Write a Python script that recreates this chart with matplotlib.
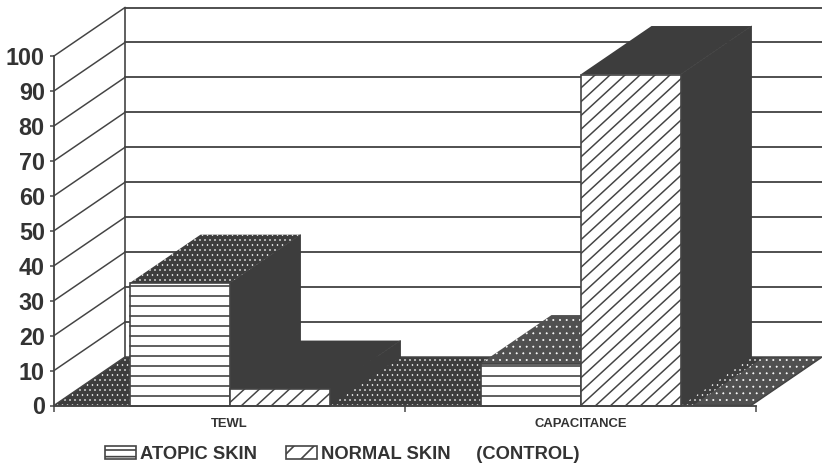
import numpy as np
import matplotlib
matplotlib.use("Agg")
import matplotlib.pyplot as plt
from matplotlib.patches import Polygon, Patch

categories = ["TEWL", "CAPACITANCE"]
atopic = [35, 12]
normal = [4.7, 94.7]
series_labels = ["ATOPIC SKIN", "NORMAL SKIN     (CONTROL)"]
y_ticks = list(range(0, 101, 10))

DARK = "#3d3d3d"
LINE = "#444444"
plt.rcParams["font.family"] = ["Liberation Sans", "DejaVu Sans"]
plt.rcParams["hatch.linewidth"] = 0.35

W, H, DPI = 822, 465, 120
fig = plt.figure(figsize=(W / DPI, H / DPI), dpi=DPI, facecolor="white")
ax = fig.add_axes([0, 0, 1, 1])

PX_X = 351.0      # pixels per category
PX_Y = 3.495      # pixels per value unit
X0, Y0 = 54.0, 405.5
ax.set_xlim(-X0 / PX_X, (W - X0) / PX_X)
ax.set_ylim(-(H - Y0) / PX_Y, Y0 / PX_Y)
ax.patch.set_visible(False)

DX = 71 / PX_X    # depth offset
DY = 48.5 / PX_Y
BW = 100 / PX_X   # bar width
XMAX = (W - X0) / PX_X

# walls
for v in y_ticks[1:]:
    ax.plot([DX, XMAX], [v + DY, v + DY], color=LINE, lw=1.1, zorder=1)
    ax.plot([0, DX], [v, v + DY], color=LINE, lw=0.9, zorder=1)
ax.plot([DX, DX], [DY, 100 + DY], color=LINE, lw=1.0, zorder=1)

# floor
ax.add_patch(Polygon([(0, 0), (DX, DY), (XMAX, DY), (XMAX - DX, 0)], closed=True,
                     facecolor=DARK, edgecolor="white", hatch="....", lw=0, zorder=2))
ax.add_patch(Polygon([(1.82, 0), (1.82 + DX, DY), (XMAX, DY), (XMAX - DX, 0)], closed=True,
                     facecolor="#505050", edgecolor="white", hatch="...", lw=0, zorder=2))
ax.add_patch(Polygon([(0, 0), (DX, DY), (XMAX, DY), (XMAX - DX, 0)], closed=True,
                     fill=False, edgecolor=LINE, lw=0.9, zorder=2.1))


def draw_bar(left, value, top_kw, kind, z):
    right = left + BW
    ax.add_patch(Polygon([(right, 0), (right + DX, DY), (right + DX, value + DY), (right, value)],
                         closed=True, facecolor=DARK, edgecolor=DARK, lw=0.5, zorder=z))
    ax.add_patch(Polygon([(left, value), (left + DX, value + DY), (right + DX, value + DY), (right, value)],
                         closed=True, lw=0, zorder=z, **top_kw))
    front = Polygon([(left, 0), (left, value), (right, value), (right, 0)], closed=True,
                    facecolor="white", edgecolor=LINE, lw=1.0, zorder=z + 0.1)
    ax.add_patch(front)
    if kind == "h":
        for v in np.arange(0, value, 10 / PX_Y)[1:]:
            ax.plot([left, right], [v, v], color=LINE, lw=1.0, zorder=z + 0.2)
    else:
        step = 15.0 / PX_X            # horizontal spacing between diagonals
        slope = PX_X / PX_Y * 0.92
        starts = np.arange(left - value / slope - step, right + step, step)
        for s in starts:
            ln, = ax.plot([s, s + value / slope * 1.5], [0, value * 1.5],
                          color=LINE, lw=0.9, zorder=z + 0.2)
            ln.set_clip_path(front)


speck = dict(facecolor=DARK, edgecolor="white", hatch="....")
solid = dict(facecolor=DARK, edgecolor=DARK)
light = dict(facecolor="#505050", edgecolor="white", hatch="...")
centers = [0.5, 1.5]
draw_bar(centers[0] - BW, atopic[0], speck, "h", 3)
draw_bar(centers[0], normal[0], solid, "d", 4)
draw_bar(centers[1] - BW, atopic[1], light, "h", 5)
draw_bar(centers[1], normal[1], solid, "d", 6)

# axes
for s in ("top", "right"):
    ax.spines[s].set_visible(False)
ax.spines["left"].set_position(("data", 0))
ax.spines["bottom"].set_position(("data", 0))
ax.spines["left"].set_bounds(0, 100)
ax.spines["bottom"].set_bounds(0, 2)
for s in ("left", "bottom"):
    ax.spines[s].set_color(LINE)
    ax.spines[s].set_linewidth(1.1)
    ax.spines[s].set_zorder(8)
ax.set_yticks(y_ticks)
ax.set_yticklabels([str(v) for v in y_ticks], fontsize=14, fontweight="bold", color="#333333")
ax.tick_params(axis="y", direction="out", length=2.5, width=0.9, color=LINE, pad=3)
ax.set_xticks([0, 1, 2])
ax.set_xticklabels([])
ax.tick_params(axis="x", which="major", direction="out", length=3.5, width=0.9, color=LINE)
ax.set_xticks(centers, minor=True)
ax.set_xticklabels(categories, minor=True, fontsize=7.8, fontweight="bold", color="#333333")
ax.tick_params(axis="x", which="minor", length=0, pad=7.5)

plt.rcParams["hatch.linewidth"] = 1.0
handles = [Patch(facecolor="white", edgecolor=LINE, hatch="---", lw=1.0),
           Patch(facecolor="white", edgecolor=LINE, hatch="//", lw=1.0)]
ax.legend(handles, series_labels, loc="center left", bbox_to_anchor=(105 / W, 1 - 454.5 / H),
          bbox_transform=fig.transFigure, ncol=2, frameon=False,
          prop=dict(size=11, weight="bold"), labelcolor="#333333",
          handlelength=1.7, handleheight=0.65, handletextpad=0.22, columnspacing=1.55,
          borderpad=0, borderaxespad=0)

fig.savefig("out.png", dpi=DPI, facecolor="white")
